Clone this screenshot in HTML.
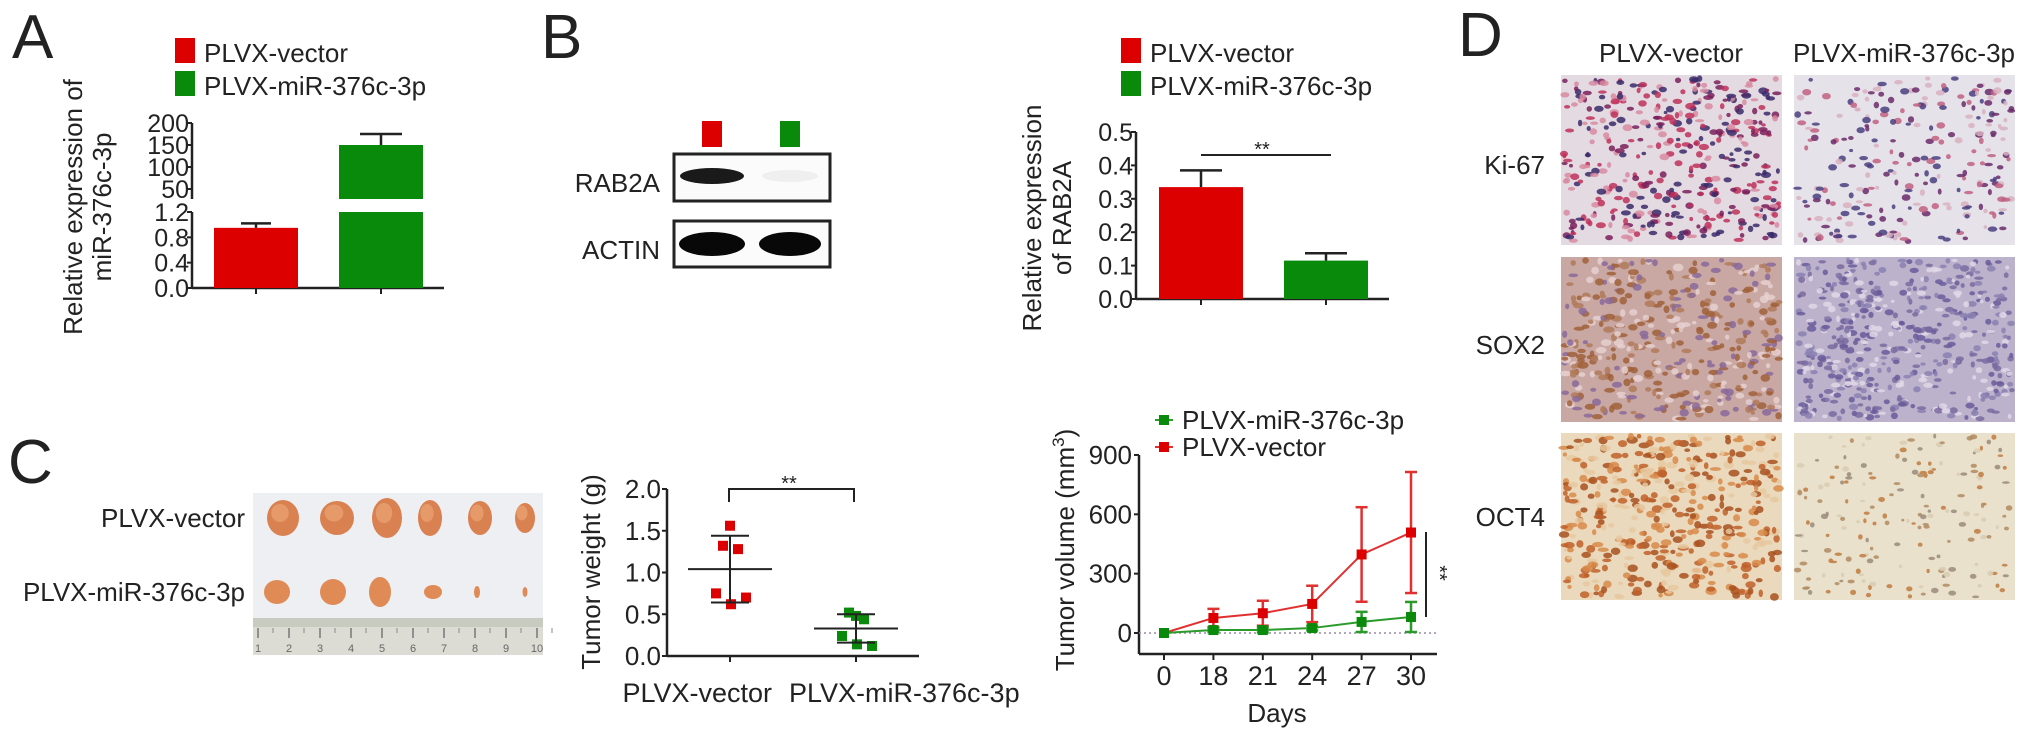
<!DOCTYPE html>
<html><head><meta charset="utf-8">
<style>
html,body{margin:0;padding:0;background:#fff;}
svg{display:block;}
text{font-family:"Liberation Sans",Arial,sans-serif;fill:#222;}
</style></head>
<body>
<svg id="fig" width="2031" height="741" viewBox="0 0 2031 741" xmlns="http://www.w3.org/2000/svg">
  <rect x="0" y="0" width="2031" height="741" fill="#fff"/>
  <!-- Panel letters -->
  <text x="12" y="58" font-size="62">A</text>
  <text x="541" y="58" font-size="62">B</text>
  <text x="8" y="483" font-size="62">C</text>
  <text x="1458" y="56" font-size="62">D</text>

  <!-- Panel A legend -->
  <g>
    <rect x="175" y="38" width="20" height="25" fill="#dd0000"/>
    <text x="204" y="62" font-size="26">PLVX-vector</text>
    <rect x="175" y="71" width="20" height="25" fill="#0a8a0a"/>
    <text x="204" y="95" font-size="26">PLVX-miR-376c-3p</text>
  </g>
  <g transform="translate(82,207) rotate(-90)">
    <text x="0" y="0" font-size="26" text-anchor="middle">Relative expression of</text>
    <text x="0" y="29" font-size="26" text-anchor="middle">miR-376c-3p</text>
  </g>
  <g id="chartA"></g>

  <!-- Panel B blot -->
  <g>
    <rect x="702" y="121" width="20" height="26" fill="#dd0000"/>
    <rect x="780" y="121" width="20" height="26" fill="#0a8a0a"/>
    <text x="660" y="192" font-size="26" text-anchor="end">RAB2A</text>
    <text x="660" y="259" font-size="26" text-anchor="end">ACTIN</text>
    <rect x="674" y="154" width="156" height="47" fill="#fbfbfb" stroke="#222" stroke-width="3"/>
    <ellipse cx="712" cy="176" rx="32" ry="8" fill="#1a1a1a"/>
    <ellipse cx="790" cy="176" rx="28" ry="6" fill="#efefef"/>
    <rect x="674" y="221" width="156" height="46" fill="#fbfbfb" stroke="#222" stroke-width="3"/>
    <ellipse cx="712" cy="244" rx="33" ry="12" fill="#080808"/>
    <ellipse cx="790" cy="244" rx="31" ry="12" fill="#080808"/>
  </g>

  <!-- Panel B legend -->
  <g>
    <rect x="1121" y="38" width="20" height="25" fill="#dd0000"/>
    <text x="1150" y="62" font-size="26">PLVX-vector</text>
    <rect x="1121" y="71" width="20" height="25" fill="#0a8a0a"/>
    <text x="1150" y="95" font-size="26">PLVX-miR-376c-3p</text>
  </g>
  <g transform="translate(1041,218) rotate(-90)">
    <text x="0" y="0" font-size="26" text-anchor="middle">Relative expression</text>
    <text x="0" y="30" font-size="26" text-anchor="middle">of RAB2A</text>
  </g>
  <g id="chartB"></g>

  <!-- Panel C photo -->
  <text x="245" y="527" font-size="26" text-anchor="end">PLVX-vector</text>
  <text x="245" y="601" font-size="26" text-anchor="end">PLVX-miR-376c-3p</text>
  <g id="photo">
    <rect x="253" y="493" width="290" height="162" fill="#eeeff3"/>
    <rect x="253" y="618" width="290" height="37" fill="#dcdcd4"/>
    <rect x="253" y="618" width="290" height="9" fill="#c8cbc0"/>
  </g>

  <!-- Tumor weight chart -->
  <g transform="translate(600,572) rotate(-90)">
    <text x="0" y="0" font-size="26" text-anchor="middle">Tumor weight (g)</text>
  </g>
  <g id="chartW"></g>

  <!-- Tumor volume chart -->
  <g transform="translate(1074,550) rotate(-90)">
    <text x="0" y="0" font-size="26" text-anchor="middle">Tumor volume (mm<tspan font-size="17" dy="-10">3</tspan><tspan dy="10">)</tspan></text>
  </g>
  <text x="1277" y="722" font-size="26" text-anchor="middle">Days</text>
  <g>
    <line x1="1155" y1="420" x2="1173" y2="420" stroke="#2a9a2a" stroke-width="2"/>
    <rect x="1159" y="415" width="10" height="10" fill="#0a8a0a"/>
    <text x="1182" y="429" font-size="26">PLVX-miR-376c-3p</text>
    <line x1="1155" y1="447" x2="1173" y2="447" stroke="#e03030" stroke-width="2"/>
    <rect x="1159" y="442" width="10" height="10" fill="#dd0000"/>
    <text x="1182" y="456" font-size="26">PLVX-vector</text>
  </g>
  <g id="chartV"></g>

  <!-- Panel D -->
  <text x="1671" y="62" font-size="26" text-anchor="middle">PLVX-vector</text>
  <text x="1904" y="62" font-size="26" text-anchor="middle">PLVX-miR-376c-3p</text>
  <text x="1545" y="174" font-size="26" text-anchor="end">Ki-67</text>
  <text x="1545" y="354" font-size="26" text-anchor="end">SOX2</text>
  <text x="1545" y="526" font-size="26" text-anchor="end">OCT4</text>
  <g id="ihc"></g>
</svg>

<script>
// ---------- DATA ----------
const aCategories = ['PLVX-vector', 'PLVX-miR-376c-3p'];
const aValues = [0.95, 150];
const aErrors = [0.07, 25];
const aLowTicks = [0.0, 0.4, 0.8, 1.2];
const aHighTicks = [50, 100, 150, 200];

const bCategories = ['PLVX-vector', 'PLVX-miR-376c-3p'];
const bValues = [0.335, 0.115];
const bErrors = [0.05, 0.022];
const bTicks = [0.0, 0.1, 0.2, 0.3, 0.4, 0.5];

const wCategories = ['PLVX-vector', 'PLVX-miR-376c-3p'];
const wVector = [1.56, 1.32, 1.28, 0.75, 0.70, 0.62];
const wMir = [0.48, 0.52, 0.44, 0.24, 0.12, 0.14];
const wMeans = [1.04, 0.33];
const wSDs = [0.40, 0.17];
const wTicks = [0.0, 0.5, 1.0, 1.5, 2.0];

const vDays = [0, 18, 21, 24, 27, 30];
const vVector = [0, 76, 100, 147, 397, 508];
const vVectorErr = [0, 46, 63, 92, 239, 306];
const vMir = [0, 15, 15, 25, 56, 81];
const vMirErr = [0, 10, 12, 12, 51, 76];
const vTicks = [0, 300, 600, 900];

// ---------- HELPERS ----------
const NS = 'http://www.w3.org/2000/svg';
function mk(tag, parent, attrs) {
  const e = document.createElementNS(NS, tag);
  for (const k in attrs) e.setAttribute(k, attrs[k]);
  parent.appendChild(e);
  return e;
}
const RED = '#dd0000', GREEN = '#0a8a0a', INK = '#222';

// ---------- CHART A ----------
(function () {
  const g = document.getElementById('chartA');
  const ax = 192, x0 = 192, x1 = 444, yBase = 288, yLowTop = 212, yHiBot = 199, yHiTop = 123;
  const yLow = v => yBase - v * (yBase - yLowTop) / 1.2;
  const yHi = v => 189 - (v - 50) * (189 - yHiTop) / 150;
  const xc = i => 256 + i * 125;
  const bw = 84;
  mk('line', g, {x1: ax, y1: yLowTop, x2: ax, y2: yBase, stroke: INK, 'stroke-width': 2.5});
  mk('line', g, {x1: ax, y1: yHiTop, x2: ax, y2: yHiBot, stroke: INK, 'stroke-width': 2.5});
  mk('line', g, {x1: x0, y1: yBase, x2: x1, y2: yBase, stroke: INK, 'stroke-width': 2.5});
  aLowTicks.forEach(t => {
    mk('line', g, {x1: ax - 5, y1: yLow(t), x2: ax, y2: yLow(t), stroke: INK, 'stroke-width': 2});
    const tx = mk('text', g, {x: ax - 3, y: yLow(t) + 9, 'font-size': 25, 'text-anchor': 'end'});
    tx.textContent = t.toFixed(1);
    
    
  });
  aHighTicks.forEach(t => {
    mk('line', g, {x1: ax - 5, y1: yHi(t), x2: ax, y2: yHi(t), stroke: INK, 'stroke-width': 2});
    const tx = mk('text', g, {x: ax - 3, y: yHi(t) + 9, 'font-size': 25, 'text-anchor': 'end'});
    tx.textContent = String(t);
    
    
  });
  aValues.forEach((v, i) => {
    const col = i === 0 ? RED : GREEN;
    const cx = xc(i);
    mk('line', g, {x1: cx, y1: yBase, x2: cx, y2: yBase + 6, stroke: INK, 'stroke-width': 2});
    if (v <= 1.2) {
      const b = mk('rect', g, {x: cx - bw / 2, y: yLow(v), width: bw, height: yBase - yLow(v), fill: col});
      
      
      const te = yLow(v + aErrors[i]);
      mk('line', g, {x1: cx, y1: yLow(v), x2: cx, y2: te, stroke: INK, 'stroke-width': 2.5});
      mk('line', g, {x1: cx - 15, y1: te, x2: cx + 15, y2: te, stroke: INK, 'stroke-width': 2.5});
    } else {
      const b1 = mk('rect', g, {x: cx - bw / 2, y: yLowTop, width: bw, height: yBase - yLowTop, fill: col});
      
      
      const b2 = mk('rect', g, {x: cx - bw / 2, y: yHi(v), width: bw, height: yHiBot - yHi(v), fill: col});
      
      
      const te = yHi(v + aErrors[i]);
      mk('line', g, {x1: cx, y1: yHi(v), x2: cx, y2: te, stroke: INK, 'stroke-width': 2.5});
      mk('line', g, {x1: cx - 21, y1: te, x2: cx + 21, y2: te, stroke: INK, 'stroke-width': 2.5});
    }
  });
})();

// ---------- CHART B ----------
(function () {
  const g = document.getElementById('chartB');
  const ax = 1136, yBase = 299;
  const y = v => yBase - v * 334;
  const xc = i => 1201 + i * 125;
  const bw = 84;
  mk('line', g, {x1: ax, y1: y(0.5), x2: ax, y2: yBase, stroke: INK, 'stroke-width': 2.5});
  mk('line', g, {x1: ax, y1: yBase, x2: 1389, y2: yBase, stroke: INK, 'stroke-width': 2.5});
  bTicks.forEach(t => {
    mk('line', g, {x1: ax - 5, y1: y(t), x2: ax, y2: y(t), stroke: INK, 'stroke-width': 2});
    const tx = mk('text', g, {x: ax - 3, y: y(t) + 9, 'font-size': 25, 'text-anchor': 'end'});
    tx.textContent = t.toFixed(1);
    
    
  });
  bValues.forEach((v, i) => {
    const cx = xc(i);
    mk('line', g, {x1: cx, y1: yBase, x2: cx, y2: yBase + 6, stroke: INK, 'stroke-width': 2});
    const b = mk('rect', g, {x: cx - bw / 2, y: y(v), width: bw, height: yBase - y(v), fill: i === 0 ? RED : GREEN});
    
    
    const te = y(v + bErrors[i]);
    mk('line', g, {x1: cx, y1: y(v), x2: cx, y2: te, stroke: INK, 'stroke-width': 2.5});
    mk('line', g, {x1: cx - 21, y1: te, x2: cx + 21, y2: te, stroke: INK, 'stroke-width': 2.5});
  });
  const sig = mk('line', g, {x1: 1201, y1: 155, x2: 1331, y2: 155, stroke: INK, 'stroke-width': 2});
  
  
  const st = mk('text', g, {x: 1262, y: 156, 'font-size': 20, 'text-anchor': 'middle'});
  st.textContent = '**';
  
  
})();

// ---------- PHOTO (illustrative) ----------
(function () {
  const g = document.getElementById('photo');
  const topX = [283, 337, 387, 430, 480, 525], topRx = [16, 17, 15, 12, 12, 10], topRy = [18, 17, 20, 18, 17, 15];
  const botX = [277, 333, 380, 433, 477, 525], botRx = [13, 13, 11, 9, 3, 2.5], botRy = [12, 13, 15, 7, 6, 5];
  topX.forEach((x, i) => {
    const e = mk('ellipse', g, {cx: x, cy: 518, rx: topRx[i], ry: topRy[i], fill: '#d98150'});
    
    
    mk('ellipse', g, {cx: x - 3, cy: 513, rx: topRx[i] * 0.55, ry: topRy[i] * 0.5, fill: '#e9a070', opacity: 0.8});
  });
  botX.forEach((x, i) => {
    const e = mk('ellipse', g, {cx: x, cy: 592, rx: botRx[i], ry: botRy[i], fill: '#e08a55'});
    
    
  });
  for (let i = 0; i < 10; i++) {
    const x = 258 + i * 31;
    mk('line', g, {x1: x, y1: 628, x2: x, y2: 638, stroke: '#777', 'stroke-width': 1.5});
    mk('line', g, {x1: x + 15, y1: 628, x2: x + 15, y2: 633, stroke: '#888', 'stroke-width': 1});
    const t = mk('text', g, {x: x, y: 652, 'font-size': 11, 'text-anchor': 'middle', fill: '#666'});
    t.style.fill = '#666';
    t.textContent = String(i + 1);
  }
})();

// ---------- TUMOR WEIGHT ----------
(function () {
  const g = document.getElementById('chartW');
  const ax = 667, yBase = 656;
  const y = v => yBase - v * 83.5;
  const xc = i => 730 + i * 126;
  const jitter = [0, -7, 8, -14, 16, 1];
  mk('line', g, {x1: ax, y1: y(2), x2: ax, y2: yBase, stroke: INK, 'stroke-width': 2.5});
  mk('line', g, {x1: ax, y1: yBase, x2: 919, y2: yBase, stroke: INK, 'stroke-width': 2.5});
  wTicks.forEach(t => {
    mk('line', g, {x1: ax - 5, y1: y(t), x2: ax, y2: y(t), stroke: INK, 'stroke-width': 2});
    const tx = mk('text', g, {x: ax - 6, y: y(t) + 9, 'font-size': 26, 'text-anchor': 'end'});
    tx.textContent = t.toFixed(1);
    
    
  });
  wCategories.forEach((c, i) => {
    mk('line', g, {x1: xc(i), y1: yBase, x2: xc(i), y2: yBase + 6, stroke: INK, 'stroke-width': 2});
  });
  const l0 = mk('text', g, {x: 772, y: 702, 'font-size': 27, 'text-anchor': 'end'});
  l0.textContent = wCategories[0];
  
  
  const l1 = mk('text', g, {x: 789, y: 702, 'font-size': 27});
  l1.textContent = wCategories[1];
  
  
  [wVector, wMir].forEach((arr, i) => {
    const col = i === 0 ? RED : GREEN;
    arr.forEach((v, j) => {
      const p = mk('rect', g, {x: xc(i) + jitter[j] - 5, y: y(v) - 5, width: 10, height: 10, fill: col});
      
      
    });
    const m = wMeans[i], s = wSDs[i];
    const ml = mk('line', g, {x1: xc(i) - 42, y1: y(m), x2: xc(i) + 42, y2: y(m), stroke: INK, 'stroke-width': 2});
    
    
    mk('line', g, {x1: xc(i), y1: y(m - s), x2: xc(i), y2: y(m + s), stroke: INK, 'stroke-width': 2});
    mk('line', g, {x1: xc(i) - 19, y1: y(m + s), x2: xc(i) + 19, y2: y(m + s), stroke: INK, 'stroke-width': 2});
    mk('line', g, {x1: xc(i) - 19, y1: y(m - s), x2: xc(i) + 19, y2: y(m - s), stroke: INK, 'stroke-width': 2});
  });
  const br = mk('polyline', g, {points: '729,502 729,489 854,489 854,502', fill: 'none', stroke: INK, 'stroke-width': 2});
  
  
  const st = mk('text', g, {x: 789, y: 490, 'font-size': 20, 'text-anchor': 'middle'});
  st.textContent = '**';
  
  
})();

// ---------- TUMOR VOLUME ----------
(function () {
  const g = document.getElementById('chartV');
  const ax = 1139, yAxisBase = 654;
  const x = i => 1164 + i * 49.4;
  const y = v => 633 - v * 0.1978;
  mk('line', g, {x1: ax, y1: y(900), x2: ax, y2: yAxisBase, stroke: INK, 'stroke-width': 2.5});
  mk('line', g, {x1: ax, y1: yAxisBase, x2: 1437, y2: yAxisBase, stroke: INK, 'stroke-width': 2.5});
  mk('line', g, {x1: ax, y1: y(0), x2: 1437, y2: y(0), stroke: '#9a8aa8', 'stroke-width': 1.5, 'stroke-dasharray': '2,3'});
  vTicks.forEach(t => {
    mk('line', g, {x1: ax - 5, y1: y(t), x2: ax, y2: y(t), stroke: INK, 'stroke-width': 2});
    const tx = mk('text', g, {x: ax - 7, y: y(t) + 9, 'font-size': 26, 'text-anchor': 'end'});
    tx.textContent = String(t);
    
    
  });
  vDays.forEach((d, i) => {
    mk('line', g, {x1: x(i), y1: yAxisBase, x2: x(i), y2: yAxisBase + 6, stroke: INK, 'stroke-width': 2});
    const tx = mk('text', g, {x: x(i), y: 685, 'font-size': 27, 'text-anchor': 'middle'});
    tx.textContent = String(d);
    
    
  });
  function series(vals, errs, col, lineCol, name) {
    const pts = vals.map((v, i) => x(i) + ',' + y(v)).join(' ');
    const pl = mk('polyline', g, {points: pts, fill: 'none', stroke: lineCol, 'stroke-width': 2});
    
    
    vals.forEach((v, i) => {
      const e = errs[i];
      if (e > 0) {
        mk('line', g, {x1: x(i), y1: y(v - e), x2: x(i), y2: y(v + e), stroke: lineCol, 'stroke-width': 2.5});
        mk('line', g, {x1: x(i) - 6, y1: y(v + e), x2: x(i) + 6, y2: y(v + e), stroke: lineCol, 'stroke-width': 2.5});
        mk('line', g, {x1: x(i) - 6, y1: y(v - e), x2: x(i) + 6, y2: y(v - e), stroke: lineCol, 'stroke-width': 2.5});
      }
      const m = mk('rect', g, {x: x(i) - 5, y: y(v) - 5, width: 10, height: 10, fill: col});
      
      
    });
  }
  series(vVector, vVectorErr, RED, '#e03030', 'vector');
  series(vMir, vMirErr, GREEN, '#2a9a2a', 'mir');
  const sl = mk('line', g, {x1: 1426, y1: 532, x2: 1426, y2: 617, stroke: INK, 'stroke-width': 2});
  
  
  const st = mk('text', g, {x: 0, y: 0, 'font-size': 20, 'text-anchor': 'middle', transform: 'translate(1433,573) rotate(90)'});
  st.textContent = '**';
  
  
})();

// ---------- IHC IMAGES (texture) ----------
(function () {
  const g = document.getElementById('ihc');
  let seed = 12345;
  const rnd = () => { seed = (seed * 1103515245 + 12345) % 2147483648; return seed / 2147483648; };
  const cols = [1561, 1794], w = 221;
  const rows = [[75, 170], [257, 165], [433, 167]];
  const styles = [
    [{bg: '#e4dbe2', c: ['#7a1f5a', '#c0305a', '#3a2a6a', '#d88aa0'], n: 420, r: 3.2},
     {bg: '#e6e2ea', c: ['#6a2a6a', '#c06080', '#4a4080', '#d8b0c0'], n: 260, r: 3.0}],
    [{bg: '#c9a8a4', c: ['#a0603a', '#8a6a9a', '#b07a5a', '#e6d0d0'], n: 420, r: 3.5},
     {bg: '#bcb2cc', c: ['#6a5a9a', '#8a80b0', '#e0d8e6', '#7a6aa0'], n: 520, r: 3.0}],
    [{bg: '#ead9bc', c: ['#c0602a', '#a8501e', '#d88a4a', '#e6c8a0'], n: 440, r: 3.6},
     {bg: '#e9e1cc', c: ['#b08a60', '#c07a40', '#d8cbb0', '#9a8a7a'], n: 180, r: 2.5}]
  ];
  const names = ['ki67', 'sox2', 'oct4'];
  rows.forEach((rw, ri) => {
    cols.forEach((cx, ci) => {
      const st = styles[ri][ci];
      const img = mk('g', g, {});
      
      
      mk('rect', img, {x: cx, y: rw[0], width: w, height: rw[1], fill: st.bg});
      for (let k = 0; k < st.n; k++) {
        const px = cx + 3 + rnd() * (w - 6), py = rw[0] + 3 + rnd() * (rw[1] - 6);
        const col = st.c[Math.floor(rnd() * st.c.length)];
        mk('ellipse', img, {cx: px.toFixed(1), cy: py.toFixed(1), rx: (st.r * (0.6 + rnd())).toFixed(1), ry: (st.r * (0.5 + rnd() * 0.6)).toFixed(1), fill: col, opacity: 0.85});
      }
    });
  });
})();
</script>
</body></html>
